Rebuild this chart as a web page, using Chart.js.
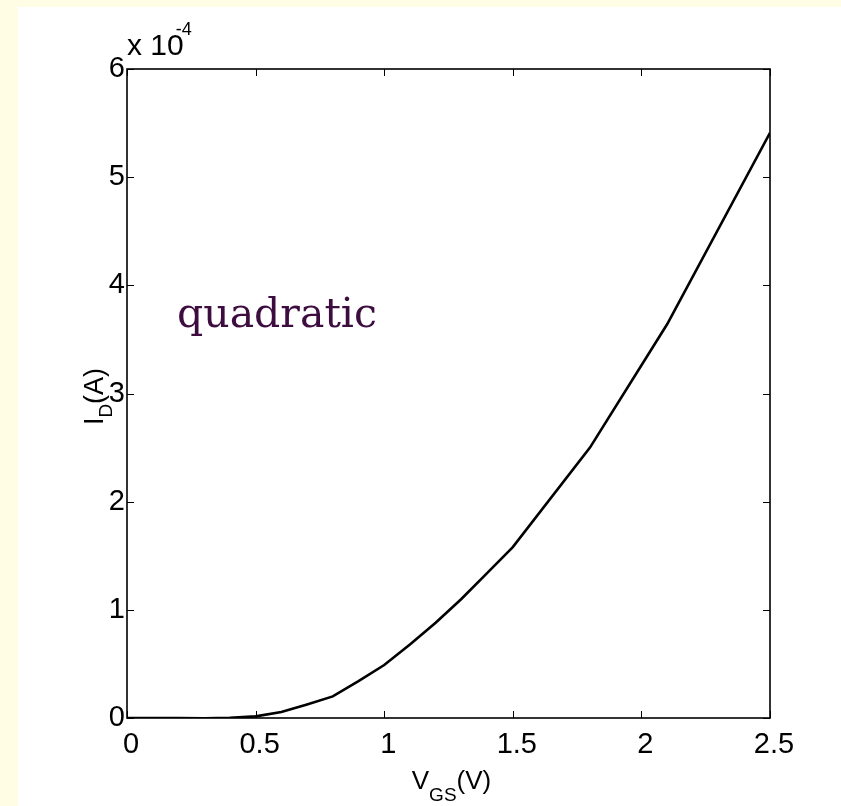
<!DOCTYPE html>
<html>
<head>
<meta charset="utf-8">
<script src="https://cdn.jsdelivr.net/npm/chart.js@4"></script>
<style>
  html, body { margin: 0; padding: 0; background: #fffde3; }
  #wrap { position: absolute; left: 18px; top: 7px; width: 823px; height: 799px; background: #fff; }
</style>
</head>
<body>
<div id="wrap"><canvas id="myChart" width="823" height="799"></canvas></div>
<script>
// gate voltage sweep (V) and drain current (in units of 1e-4 A)
var vgs = [0, 0.1, 0.2, 0.3, 0.4, 0.5, 0.6, 0.7, 0.8, 0.9, 1.0, 1.1, 1.2, 1.3, 1.4, 1.5, 1.8, 2.1, 2.5]
var idScaled = [0, 0, 0, -0.003, 0.002, 0.015, 0.055, 0.125, 0.2, 0.34, 0.49, 0.68, 0.88, 1.1, 1.34, 1.58, 2.5, 3.64, 5.41]
var xTicks = [0, 0.5, 1, 1.5, 2, 2.5]
var yTicks = [0, 1, 2, 3, 4, 5, 6]

var sans = '"Liberation Sans", Arial, Helvetica, sans-serif'

// box, inward ticks and the hand-set labels
var frame = {
    id: 'frame',
    afterDatasetsDraw: function(chart) {
        var ctx = chart.ctx, a = chart.chartArea
        var xs = chart.scales.x, ys = chart.scales.y
        ctx.save()
        ctx.strokeStyle = '#000'
        ctx.lineWidth = 1
        ctx.beginPath()
        xTicks.forEach(function(v) {
            var px = Math.round(xs.getPixelForValue(v)) + 0.5
            ctx.moveTo(px, a.bottom); ctx.lineTo(px, a.bottom - 7)
            ctx.moveTo(px, a.top); ctx.lineTo(px, a.top + 7)
        })
        yTicks.forEach(function(v) {
            var py = Math.round(ys.getPixelForValue(v)) + 0.5
            ctx.moveTo(a.left, py); ctx.lineTo(a.left + 7, py)
            ctx.moveTo(a.right, py); ctx.lineTo(a.right - 7, py)
        })
        ctx.stroke()
        ctx.lineWidth = 1.6
        ctx.strokeRect(a.left, a.top, a.right - a.left, a.bottom - a.top)

        ctx.fillStyle = '#000'
        ctx.textBaseline = 'alphabetic'
        ctx.textAlign = 'left'

        // exponent marker above the y axis
        ctx.font = '30px ' + sans
        ctx.fillText('x 10', a.left, a.top - 14)
        var w = ctx.measureText('x 10').width
        ctx.font = '18px ' + sans
        ctx.fillText('-4', a.left + w - 8, a.top - 34)

        // x axis title
        var big = '26px ' + sans, small = '19px ' + sans
        ctx.font = big
        var wV = ctx.measureText('V').width, wP = ctx.measureText('(V)').width
        ctx.font = small
        var wS = ctx.measureText('GS').width
        var x0 = (a.left + a.right) / 2 + 3 - (wV + wS + wP) / 2
        ctx.font = big
        ctx.fillText('V', x0, a.bottom + 71)
        ctx.font = small
        ctx.fillText('GS', x0 + wV, a.bottom + 83)
        ctx.font = big
        ctx.fillText('(V)', x0 + wV + wS, a.bottom + 71)

        // y axis title
        ctx.save()
        ctx.translate(a.left - 24, (a.top + a.bottom) / 2 + 3)
        ctx.rotate(-Math.PI / 2)
        big = '27px ' + sans
        ctx.font = big
        var wI = ctx.measureText('I').width, wA = ctx.measureText('(A)').width
        ctx.font = small
        var wD = ctx.measureText('D').width
        var y0 = -(wI + wD + wA) / 2
        ctx.font = big
        ctx.fillText('I', y0, 0)
        ctx.font = small
        ctx.fillText('D', y0 + wI, 9)
        ctx.font = big
        ctx.fillText('(A)', y0 + wI + wD, 0)
        ctx.restore()

        // annotation
        ctx.fillStyle = '#3d0d3f'
        ctx.font = '41px "DejaVu Serif", "Liberation Serif", serif'
        ctx.fillText('quadratic', 159, 320)
        ctx.restore()
    }
}

var myChart = document.getElementById('myChart').getContext('2d')
var chart = new Chart(myChart, {
    type: 'scatter',
    data: {
        datasets: [{
            data: vgs.map(function(v, i) { return { x: v, y: idScaled[i] } }),
            showLine: true,
            borderColor: '#000',
            borderWidth: 2.6,
            pointRadius: 0,
            tension: 0,
            fill: false
        }]
    },
    options: {
        responsive: false,
        animation: false,
        layout: { padding: { top: 62, right: 71, left: 0, bottom: 0 } },
        plugins: { legend: { display: false }, tooltip: { enabled: false } },
        scales: {
            x: {
                type: 'linear',
                min: 0, max: 2.5,
                afterBuildTicks: function(s) { s.ticks = xTicks.map(function(v) { return { value: v } }) },
                afterFit: function(s) { s.height = 88 },
                grid: { display: false, drawTicks: false },
                border: { display: false },
                ticks: {
                    color: '#000',
                    font: { family: sans, size: 29 },
                    padding: 10,
                    labelOffset: 4,
                    maxRotation: 0,
                    callback: function(v) { return String(v) }
                }
            },
            y: {
                type: 'linear',
                min: 0, max: 6,
                afterBuildTicks: function(s) { s.ticks = yTicks.map(function(v) { return { value: v } }) },
                afterFit: function(s) { s.width = 109 },
                grid: { display: false, drawTicks: false },
                border: { display: false },
                ticks: {
                    color: '#000',
                    font: { family: sans, size: 29 },
                    padding: 2,
                    callback: function(v) { return String(v) }
                }
            }
        }
    },
    plugins: [frame]
})
</script>
</body>
</html>
